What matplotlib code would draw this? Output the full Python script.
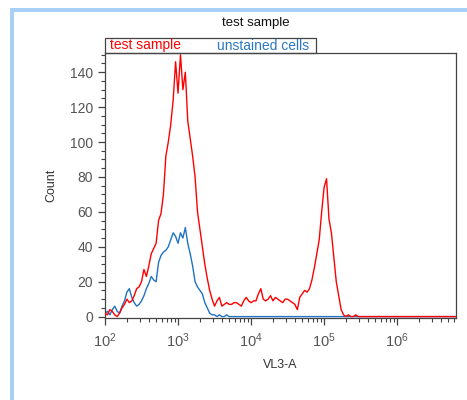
import numpy as np
import matplotlib
matplotlib.use("Agg")
import matplotlib.pyplot as plt
from matplotlib.patches import Rectangle
from matplotlib.ticker import LogLocator, MultipleLocator

# === Histogram data (counts per log bin, 30 bins per decade starting at 10^2) ===
log_start = 2.0
bins_per_decade = 30

test_sample = [2, 1, 4, 3, 1, 0, 2, 5, 7, 10,
               8, 9, 12, 16, 17, 20, 27, 23, 29, 36,
               39, 42, 55, 59, 70, 92, 100, 110, 124, 146,
               128, 150, 130, 140, 112, 102, 92, 80, 60, 50,
               40, 30, 22, 15, 10, 6, 9, 11, 6, 7,
               8, 7, 7, 8, 8, 7, 6, 9, 11, 9,
               8, 9, 9, 13, 16, 10, 9, 10, 12, 9,
               11, 10, 9, 8, 10, 10, 9, 8, 7, 4,
               11, 13, 15, 14, 16, 21, 28, 36, 44, 60,
               74, 79, 56, 48, 34, 20, 12, 4, 1, 0,
               1, 0, 0, 1] + [0] * 41

unstained = [2, 3, 1, 4, 6, 3, 2, 6, 9, 14,
             16, 11, 8, 6, 7, 9, 12, 16, 19, 23,
             21, 20, 31, 35, 37, 38, 40, 44, 48, 46,
             42, 48, 45, 51, 42, 36, 29, 20, 17, 15,
             13, 8, 5, 2, 1, 1, 0, 1, 0, 0,
             1] + [0] * 94

x = 10 ** (log_start + np.arange(len(test_sample)) / bins_per_decade)

plt.rcParams['font.family'] = ['Liberation Sans', 'DejaVu Sans']
plt.rcParams['mathtext.default'] = 'regular'

fig = plt.figure(figsize=(4.67, 4.0), dpi=100)
ax = fig.add_axes([105 / 467, 82 / 400, 351 / 467, 265 / 400])

ax.plot(x, unstained, color='#1f72c4', linewidth=1.0, zorder=2)
ax.plot(x, test_sample, color='#ff0000', linewidth=1.0, zorder=3)

ax.set_xscale('log')
ax.set_xlim(100, 6.4e6)
ax.set_ylim(-0.8, 151)

ax.xaxis.set_major_locator(LogLocator(base=10, numticks=10))
ax.xaxis.set_minor_locator(LogLocator(base=10, subs=np.arange(2, 10), numticks=20))
ax.yaxis.set_major_locator(MultipleLocator(20))
ax.yaxis.set_minor_locator(MultipleLocator(5))

gray = '#555555'
for sp in ax.spines.values():
    sp.set_color('#444444')
    sp.set_linewidth(0.9)
ax.tick_params(which='major', direction='out', length=5, width=0.9,
               color='#444444', labelcolor=gray, labelsize=10)
ax.tick_params(axis='x', which='major', pad=5, labelsize=10.5)
ax.tick_params(which='minor', direction='out', length=3, width=0.8, color='#444444')

ax.set_xlabel('VL3-A', fontsize=9, color='#333333', labelpad=6)
ax.set_ylabel('Count', fontsize=9, color='#333333', labelpad=9)

# Title and legend strip
fig.text(256 / 467, 1 - 23 / 400, 'test sample', ha='center', va='center',
         fontsize=9.5, color='#111111')
fig.patches.append(Rectangle((105 / 467, 1 - 53 / 400), 211 / 467, 15 / 400,
                             transform=fig.transFigure, fill=False,
                             edgecolor='#444444', linewidth=0.9))
fig.text(110 / 467, 1 - 45.5 / 400, 'test sample', ha='left', va='center',
         fontsize=10, color='#ff0000')
fig.text(217 / 467, 1 - 45.5 / 400, 'unstained cells', ha='left', va='center',
         fontsize=10, color='#2a78c8')

# Light blue panel frame
fig.patches.append(Rectangle((10 / 467, 0), 4 / 467, 1 - 8 / 400,
                             transform=fig.transFigure, color='#a9d1f7', linewidth=0))
fig.patches.append(Rectangle((10 / 467, 1 - 12 / 400), 457 / 467, 4 / 400,
                             transform=fig.transFigure, color='#a9d1f7', linewidth=0))

fig.savefig('out.png', dpi=100)
plt.close(fig)
